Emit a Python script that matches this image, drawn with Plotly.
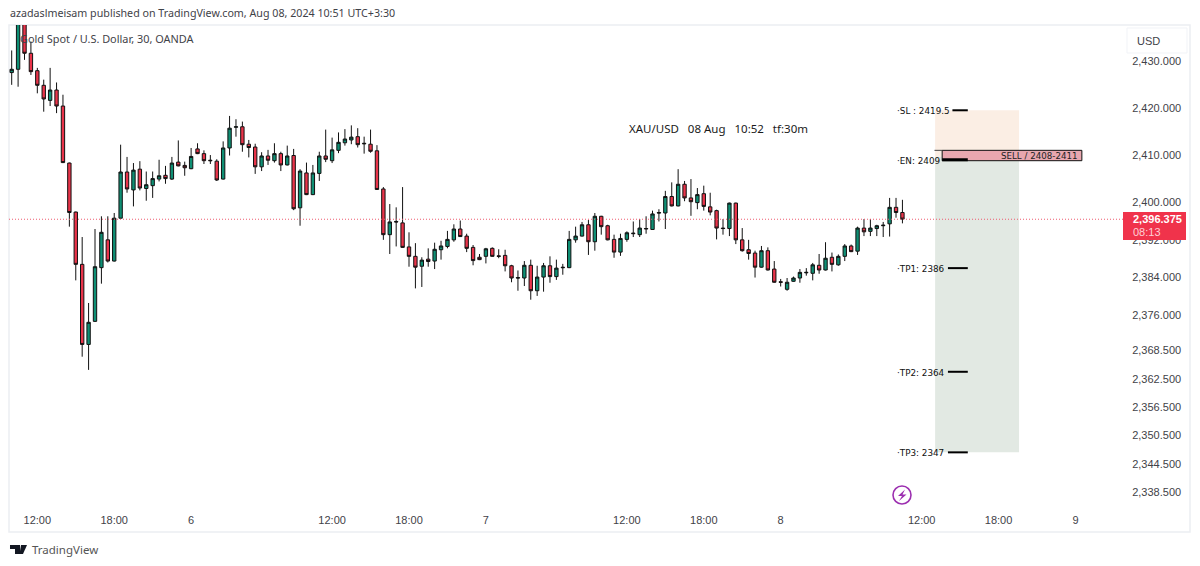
import plotly.graph_objects as go

opens = [2427.5,2428.2,2438.5,2431.6,2427.9,2424.8,2421.6,2423.8,2420.4,2408.3,
2397.9,2386.8,2369.8,2374.7,2386.1,2392.0,2387.5,2396.6,2406.4,2402.6,
2407.0,2402.9,2403.5,2404.9,2405.7,2404.9,2408.5,2407.8,2407.1,2411.3,
2410.3,2408.9,2408.7,2404.9,2411.5,2415.9,2416.0,2412.3,2411.7,2407.5,
2409.8,2408.8,2410.3,2407.9,2409.9,2398.8,2406.2,2401.6,2406.1,2409.8,
2408.8,2411.0,2412.6,2413.2,2413.9,2412.5,2412.3,2410.9,2402.8,2393.1,
2395.9,2395.6,2390.5,2388.5,2386.4,2387.9,2387.5,2389.9,2390.6,2392.0,
2394.3,2392.8,2390.4,2388.3,2388.5,2390.2,2388.6,2388.7,2386.5,2384.0,
2383.9,2386.6,2381.2,2384.1,2386.5,2384.2,2386.2,2386.1,2392.0,2392.8,
2395.2,2391.6,2397.0,2395.0,2392.1,2389.4,2392.1,2393.3,2393.1,2394.3,
2394.2,2397.8,2397.7,2401.2,2399.2,2403.8,2400.9,2399.9,2401.8,2399.0,
2398.2,2394.5,2394.4,2399.8,2392.0,2389.9,2389.2,2386.2,2389.7,2385.8,
2383.1,2381.5,2383.2,2383.9,2385.0,2384.9,2386.6,2385.6,2388.3,2386.7,
2388.5,2390.7,2389.6,2394.5,2393.8,2394.4,2395.0,2395.4,2398.9,2397.8]
highs = [2432.2,2440.0,2441.0,2434.1,2428.5,2426.0,2428.5,2425.4,2422.8,2408.4,
2398.0,2392.6,2378.6,2394.3,2397.0,2397.0,2397.7,2412.2,2409.6,2408.3,
2408.7,2406.5,2406.5,2409.0,2407.7,2409.6,2413.1,2408.6,2411.5,2412.5,
2411.0,2410.0,2409.1,2412.9,2418.3,2417.6,2417.1,2413.2,2412.4,2410.6,
2411.1,2412.5,2410.7,2412.0,2411.3,2407.0,2408.4,2407.9,2410.7,2415.4,
2413.7,2414.8,2415.5,2416.3,2415.7,2413.9,2415.4,2412.1,2403.2,2399.6,
2398.9,2403.2,2393.6,2391.3,2388.3,2390.2,2391.4,2391.8,2393.9,2395.3,
2396.1,2393.3,2390.9,2389.0,2390.3,2390.4,2390.0,2389.9,2386.7,2385.5,
2387.5,2387.8,2386.5,2387.1,2388.5,2387.8,2386.9,2393.9,2394.8,2395.8,
2396.2,2397.7,2397.1,2395.2,2393.1,2393.3,2393.8,2395.9,2396.4,2397.0,
2398.2,2398.5,2402.4,2404.2,2407.0,2404.5,2404.9,2403.0,2403.5,2402.0,
2398.4,2396.4,2399.9,2399.9,2394.5,2392.0,2389.7,2390.7,2390.4,2387.5,
2383.7,2383.9,2384.2,2385.8,2386.0,2387.1,2389.0,2391.5,2389.3,2388.9,
2391.1,2391.0,2394.8,2396.4,2396.4,2395.2,2395.8,2400.9,2400.9,2400.5]
lows = [2424.9,2424.5,2430.2,2427.0,2423.1,2419.2,2420.4,2418.9,2408.3,2394.8,
2383.4,2367.2,2364.4,2374.6,2382.7,2387.2,2387.4,2396.5,2402.0,2399.1,
2402.5,2400.3,2400.9,2404.4,2403.9,2404.7,2407.6,2405.6,2407.0,2410.2,
2408.1,2408.1,2404.5,2404.8,2409.9,2413.9,2410.7,2409.5,2406.0,2406.6,
2407.9,2408.4,2406.6,2407.8,2398.3,2395.0,2401.5,2401.5,2404.5,2408.5,
2408.3,2410.4,2412.0,2412.3,2411.6,2410.3,2410.5,2402.6,2392.0,2389.0,
2390.6,2390.3,2386.3,2381.7,2382.0,2386.3,2385.8,2387.8,2390.2,2391.6,
2392.6,2389.4,2386.6,2387.7,2387.0,2388.4,2388.1,2385.3,2383.0,2381.2,
2382.2,2379.3,2380.1,2381.0,2382.9,2383.5,2384.6,2386.0,2391.4,2392.7,
2388.8,2389.7,2393.1,2391.9,2388.2,2388.6,2391.6,2392.6,2392.6,2393.3,
2394.1,2395.9,2394.3,2399.1,2399.1,2400.2,2397.1,2398.5,2398.2,2397.2,
2392.1,2393.1,2392.8,2391.1,2389.5,2387.8,2384.0,2386.1,2385.5,2382.9,
2382.1,2381.2,2383.1,2382.9,2384.4,2383.4,2384.8,2385.5,2385.3,2386.5,
2387.5,2389.4,2388.8,2392.8,2392.8,2392.8,2392.6,2392.7,2396.7,2395.5]
closes = [2428.2,2438.5,2431.6,2427.7,2424.8,2421.9,2423.8,2420.4,2408.4,2397.8,
2386.8,2369.8,2374.5,2386.3,2393.6,2387.5,2396.6,2406.4,2402.8,2406.8,
2403.0,2403.7,2405.0,2405.6,2405.0,2408.3,2407.7,2407.3,2409.7,2410.3,
2408.8,2408.8,2404.7,2411.5,2415.7,2416.0,2412.2,2411.6,2407.5,2409.8,
2408.9,2410.3,2407.9,2409.8,2398.6,2406.6,2401.6,2406.2,2409.8,2409.1,
2411.1,2412.7,2413.4,2413.8,2412.2,2412.4,2410.8,2402.7,2393.1,2395.8,
2395.8,2390.4,2388.5,2386.2,2387.7,2387.4,2390.0,2390.7,2392.1,2394.3,
2392.7,2390.2,2387.6,2387.8,2390.1,2388.5,2388.5,2386.5,2383.9,2383.9,
2386.6,2381.2,2384.1,2386.5,2384.2,2386.0,2386.1,2392.1,2392.8,2395.2,
2391.6,2397.0,2394.8,2392.0,2389.4,2392.3,2393.5,2393.4,2394.5,2394.4,
2397.5,2397.7,2401.2,2399.2,2403.8,2400.9,2400.1,2401.6,2399.1,2397.9,
2394.5,2394.4,2399.8,2392.0,2389.7,2389.1,2386.2,2389.7,2385.6,2383.0,
2383.0,2383.0,2383.9,2385.1,2385.1,2386.7,2385.6,2388.1,2386.8,2388.5,
2390.7,2389.5,2394.5,2393.7,2394.5,2395.0,2395.1,2398.9,2397.8,2396.4]
bars = list(range(len(opens)))

x_tick_bars = [4, 16, 28, 50, 62, 74, 96, 108, 120, 142, 154, 166]
x_tick_labels = ["12:00", "18:00", "6", "12:00", "18:00", "7", "12:00", "18:00", "8", "12:00", "18:00", "9"]
y_tick_values = [2430, 2420, 2410, 2400, 2392, 2384, 2376, 2368.5, 2362.5, 2356.5, 2350.5, 2344.5, 2338.5]
y_tick_labels = ["2,430.000", "2,420.000", "2,410.000", "2,400.000", "2,392.000", "2,384.000", "2,376.000",
                 "2,368.500", "2,362.500", "2,356.500", "2,350.500", "2,344.500", "2,338.500"]

last_price = 2396.375
sl_price = 2419.5
en_price = 2409
tp_names = ["TP1: 2386", "TP2: 2364", "TP3: 2347"]
tp_prices = [2386, 2364, 2346.9]
zone_mid = 2409.6
sell_low, sell_high = 2408.8, 2411.0

RED, GREEN = "#e9344a", "#0f8f74"
INK = "#3f4248"
PL, PR, PT, PB = 9, 1128, 25, 507
def px(x): return (x - PL) / (PR - PL)
def py(y): return (PB - y) / (PB - PT)
def path(points):
    return "M " + " L ".join(f"{px(a):.5f} {py(b):.5f}" for a, b in points) + " Z"

fig = go.Figure(go.Candlestick(
    x=bars, open=opens, high=highs, low=lows, close=closes, whiskerwidth=0,
    increasing=dict(line=dict(color="#111111", width=1), fillcolor=GREEN),
    decreasing=dict(line=dict(color="#111111", width=1), fillcolor=RED),
    hoverinfo="skip", showlegend=False))

def data_rect(x0, x1, y0, y1, **kw):
    return dict(type="rect", xref="x", yref="y", x0=x0, x1=x1, y0=y0, y1=y1, **kw)
def data_line(x0, x1, y, color="#000000", width=2, **kw):
    return dict(type="line", xref="x", yref="y", x0=x0, x1=x1, y0=y, y1=y, line=dict(color=color, width=width), **kw)
def paper_rect(x0, y0, x1, y1, **kw):
    return dict(type="rect", xref="paper", yref="paper", x0=px(x0), x1=px(x1), y0=py(y0), y1=py(y1), **kw)

shapes = [
    paper_rect(9, 25, 1190, 532, line=dict(color="#eceef2", width=1.5), fillcolor="rgba(0,0,0,0)", layer="below"),
    data_rect(144.1, 157.2, zone_mid, sl_price, fillcolor="#fbeee4", line=dict(width=0), layer="below"),
    data_rect(144.1, 157.2, tp_prices[2], zone_mid, fillcolor="#e2e9e3", line=dict(width=0), layer="below"),
    data_rect(145.2, 167.0, sell_low, sell_high, fillcolor="#e9a7af", line=dict(color="#111111", width=1)),
    data_line(144.0, 145.2, sell_high, color="#444444", width=1),
    data_line(146.8, 149.2, sl_price),
    data_line(145.2, 149.2, en_price, width=3),
    dict(type="line", xref="paper", yref="y", x0=0, x1=px(1123), y0=last_price, y1=last_price,
         line=dict(color="#ee5a6e", width=1, dash="1px,2px")),
    paper_rect(1127, 28, 1187, 53, fillcolor="#ffffff", line=dict(color="#f1f3f7", width=1)),
    paper_rect(1123, 212, 1186, 240, fillcolor="#f0334b", line=dict(width=0)),
    dict(type="circle", xref="paper", yref="paper", x0=px(893), x1=px(911), y0=py(486), y1=py(504),
         line=dict(color="#9c2fb0", width=1.6), fillcolor="rgba(0,0,0,0)"),
    dict(type="path", xref="paper", yref="paper",
         path=path([(905, 489.5), (898, 496), (902, 496), (899, 501), (906.5, 494.5), (902.5, 494.5)]),
         fillcolor="#9c2fb0", line=dict(width=0)),
    dict(type="path", xref="paper", yref="paper",
         path=path([(10, 545), (20, 545), (20, 554), (15, 554), (15, 549), (10, 549)]),
         fillcolor="#131722", line=dict(width=0)),
    dict(type="path", xref="paper", yref="paper",
         path=path([(21, 545), (27, 545), (23, 554), (19.5, 554)]),
         fillcolor="#131722", line=dict(width=0)),
]
for p in tp_prices:
    shapes.append(data_line(146.1, 149.2, p))

def note(text, x, y, size=11, color=INK, font="Liberation Sans", anchor="left", weight="normal"):
    return dict(text=text, xref="paper", yref="paper", x=px(x), y=py(y), xanchor=anchor, yanchor="middle",
                showarrow=False, align="left", borderpad=0,
                font=dict(size=size, color=color, family=font, weight=weight))
def level_note(text, price):
    return dict(text="\u00b7" + text, xref="x", yref="y", x=137.8, y=price, xanchor="left", yanchor="middle",
                yshift=-1, showarrow=False, font=dict(size=8.8, color="#111111", family="DejaVu Sans"))

annotations = [
    note("azadaslmeisam published on TradingView.com, Aug 08, 2024 10:51 UTC+3:30", 9, 13, size=10.7, font="Noto Sans"),
    note("Gold Spot / U.S. Dollar, 30, OANDA", 19, 38.5, size=10.9, font="Noto Sans"),
    note("XAU/USD &nbsp; 08 Aug &nbsp; 10:52 &nbsp; tf:30m", 628, 128.5, size=11.5, color="#1a1a1a", font="Noto Sans"),
    level_note("SL : 2419.5", sl_price),
    level_note("EN: 2409", en_price),
    note("SELL / 2408-2411", 1079, 156, size=8.7, color="#222222", font="DejaVu Sans", anchor="right"),
    note("USD", 1136, 41, size=11),
    note("2,396.375", 1132, 218.5, size=11, color="#ffffff", weight="bold"),
    note("08:13", 1132, 232, size=11, color="#ffd0d6"),
    note("TradingView", 31, 549, size=11.5, color="#555555", font="Noto Sans"),
]
for name, price in zip(tp_names, tp_prices):
    annotations.append(level_note(name, price))

fig.update_layout(
    width=1200, height=566, margin=dict(l=PL, r=1200 - PR, t=PT, b=566 - PB, pad=0),
    paper_bgcolor="#ffffff", plot_bgcolor="#ffffff", showlegend=False,
    shapes=shapes, annotations=annotations, boxgap=0.25,
    xaxis=dict(range=[-0.42, 174.2], rangeslider=dict(visible=False), showgrid=False, zeroline=False,
               showline=False, tickmode="array", tickvals=x_tick_bars, ticktext=x_tick_labels,
               ticks="outside", ticklen=3, tickcolor="rgba(0,0,0,0)", fixedrange=True,
               tickfont=dict(size=11, color=INK, family="Liberation Sans")),
    yaxis=dict(range=[2335.3, 2437.6], side="right", showgrid=False, zeroline=False, showline=False,
               tickmode="array", tickvals=y_tick_values, ticktext=y_tick_labels,
               ticks="outside", ticklen=1, tickcolor="rgba(0,0,0,0)", fixedrange=True,
               tickfont=dict(size=11, color=INK, family="Liberation Sans")),
)
fig.write_html("out.html", config=dict(displayModeBar=False),
               post_script="document.body.style.margin='0';document.body.style.overflow='hidden';")
